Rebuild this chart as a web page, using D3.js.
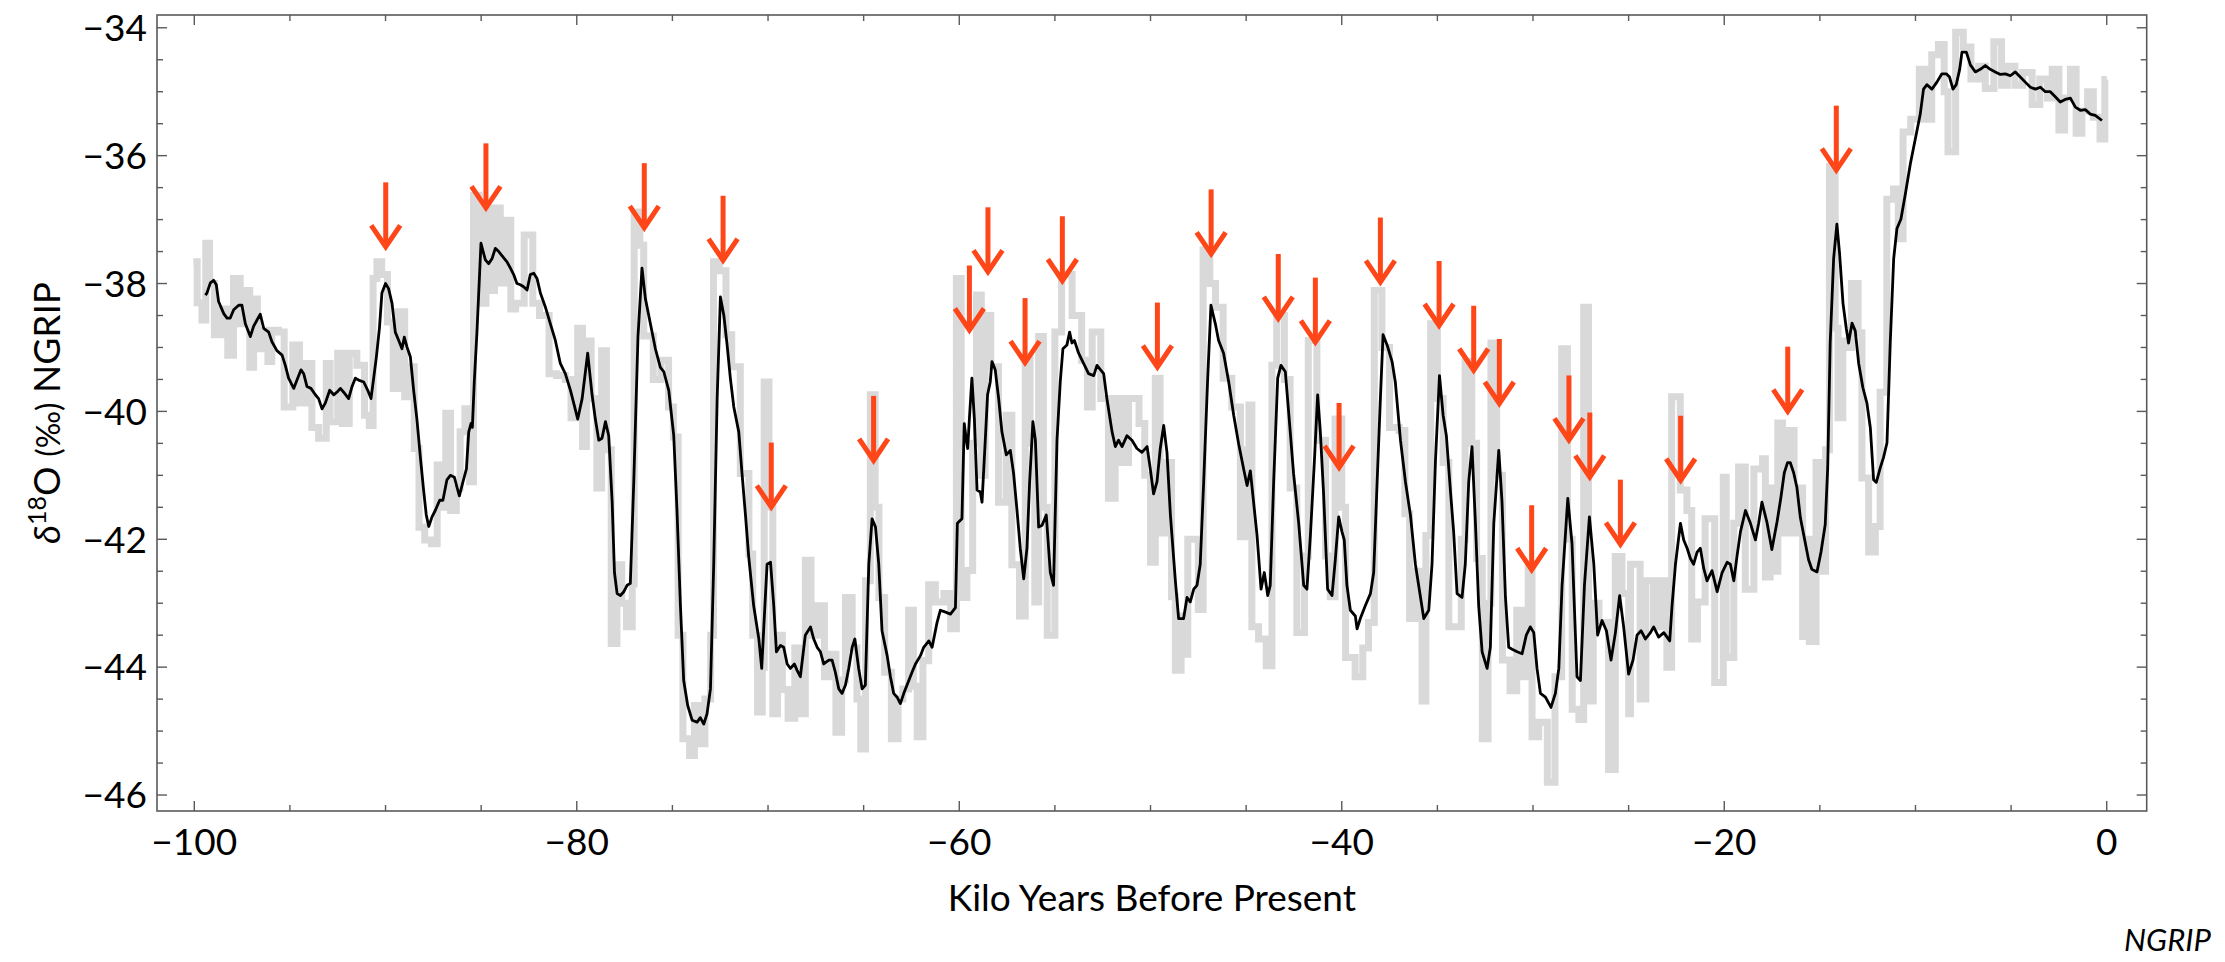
<!DOCTYPE html>
<html>
<head>
<meta charset="utf-8">
<script src="https://cdn.jsdelivr.net/npm/d3@7"></script>
<style>
  html, body { margin: 0; padding: 0; background: #ffffff; }
  svg { display: block; }
</style>
</head>
<body>
<svg id="chart" width="2225" height="962"></svg>
<script>
// ---------------- DATA ----------------
// x tick labels (kyr BP, negative) and y tick labels (per mil)
const xTickValues = [-100, -80, -60, -40, -20, 0];
const yTickValues = [-46, -44, -42, -40, -38, -36, -34];

// smoothed NGRIP d18O record (black line): [kyr, value]
const smoothSeries = [
[-99.42,-38.18],[-99.34,-38.15],[-99.16,-37.99],[-98.99,-37.95],[-98.85,-38.02],[-98.73,-38.28],[-98.46,-38.47],[-98.29,-38.54],
[-98.12,-38.54],[-97.94,-38.41],[-97.68,-38.34],[-97.51,-38.34],[-97.33,-38.63],[-97.07,-38.83],[-96.90,-38.67],[-96.72,-38.57],
[-96.55,-38.48],[-96.37,-38.70],[-96.11,-38.76],[-95.94,-38.91],[-95.68,-39.05],[-95.41,-39.12],[-95.24,-39.28],[-95.07,-39.48],
[-94.80,-39.64],[-94.63,-39.51],[-94.42,-39.35],[-94.28,-39.41],[-94.11,-39.61],[-93.90,-39.64],[-93.67,-39.74],[-93.50,-39.80],
[-93.32,-39.96],[-93.15,-39.87],[-92.92,-39.67],[-92.71,-39.74],[-92.54,-39.70],[-92.36,-39.64],[-92.19,-39.70],[-91.93,-39.80],
[-91.75,-39.61],[-91.58,-39.48],[-91.41,-39.51],[-91.14,-39.54],[-90.93,-39.67],[-90.76,-39.80],[-90.62,-39.48],[-90.48,-39.15],
[-90.32,-38.70],[-90.19,-38.15],[-90.00,-38.00],[-89.84,-38.08],[-89.66,-38.31],[-89.49,-38.76],[-89.31,-38.89],[-89.14,-39.02],
[-89.02,-38.84],[-88.88,-38.99],[-88.70,-39.15],[-88.53,-39.67],[-88.36,-40.12],[-88.18,-40.71],[-88.01,-41.23],[-87.87,-41.62],
[-87.74,-41.80],[-87.57,-41.65],[-87.40,-41.55],[-87.17,-41.39],[-87.00,-41.39],[-86.79,-41.07],[-86.61,-41.00],[-86.40,-41.03],
[-86.26,-41.19],[-86.14,-41.32],[-85.95,-41.10],[-85.77,-40.90],[-85.65,-40.32],[-85.53,-40.19],[-85.46,-40.25],[-85.36,-39.54],
[-85.22,-38.76],[-85.01,-37.37],[-84.78,-37.63],[-84.61,-37.69],[-84.43,-37.61],[-84.26,-37.45],[-84.08,-37.50],[-83.82,-37.60],
[-83.65,-37.66],[-83.47,-37.76],[-83.30,-37.86],[-83.13,-38.00],[-82.95,-38.02],[-82.78,-38.05],[-82.60,-38.10],[-82.43,-37.86],
[-82.25,-37.84],[-82.08,-37.92],[-81.90,-38.15],[-81.64,-38.37],[-81.38,-38.63],[-81.12,-38.89],[-80.86,-39.25],[-80.60,-39.41],
[-80.33,-39.67],[-80.16,-39.87],[-79.95,-40.12],[-79.72,-39.80],[-79.43,-39.09],[-79.20,-39.74],[-79.03,-40.12],[-78.85,-40.45],
[-78.68,-40.42],[-78.50,-40.16],[-78.33,-40.38],[-78.15,-41.42],[-78.03,-42.52],[-77.89,-42.85],[-77.72,-42.88],[-77.54,-42.82],
[-77.37,-42.72],[-77.20,-42.69],[-77.02,-41.10],[-76.80,-38.83],[-76.59,-37.76],[-76.41,-38.24],[-76.15,-38.63],[-75.89,-39.02],
[-75.63,-39.31],[-75.45,-39.38],[-75.19,-39.67],[-74.93,-40.38],[-74.76,-41.55],[-74.58,-43.04],[-74.41,-44.21],[-74.20,-44.60],
[-73.97,-44.83],[-73.71,-44.86],[-73.54,-44.79],[-73.36,-44.89],[-73.19,-44.73],[-73.01,-44.34],[-72.84,-42.39],[-72.66,-39.80],
[-72.49,-38.21],[-72.31,-38.50],[-72.14,-38.96],[-71.97,-39.48],[-71.79,-39.93],[-71.53,-40.32],[-71.36,-40.97],[-71.18,-41.62],
[-71.01,-42.27],[-70.75,-43.04],[-70.48,-43.56],[-70.33,-44.02],[-70.22,-43.37],[-70.05,-42.39],[-69.87,-42.36],[-69.70,-43.04],
[-69.56,-43.76],[-69.35,-43.66],[-69.18,-43.69],[-69.00,-43.95],[-68.83,-44.02],[-68.62,-43.95],[-68.48,-44.05],[-68.31,-44.15],
[-68.05,-43.50],[-67.78,-43.37],[-67.61,-43.56],[-67.43,-43.69],[-67.26,-43.76],[-67.09,-43.95],[-66.82,-43.89],[-66.65,-43.89],
[-66.48,-44.08],[-66.30,-44.34],[-66.13,-44.41],[-65.95,-44.28],[-65.78,-44.02],[-65.60,-43.69],[-65.46,-43.56],[-65.26,-44.02],
[-65.08,-44.34],[-64.91,-44.28],[-64.73,-42.39],[-64.56,-41.68],[-64.38,-41.81],[-64.21,-42.39],[-64.04,-43.43],[-63.77,-43.82],
[-63.60,-44.15],[-63.43,-44.41],[-63.25,-44.47],[-63.08,-44.57],[-62.90,-44.41],[-62.73,-44.28],[-62.47,-44.08],[-62.29,-43.95],
[-62.03,-43.82],[-61.86,-43.69],[-61.59,-43.59],[-61.42,-43.69],[-61.16,-43.30],[-60.99,-43.11],[-60.72,-43.14],[-60.46,-43.17],
[-60.20,-43.07],[-60.10,-41.75],[-59.86,-41.68],[-59.74,-40.19],[-59.63,-40.45],[-59.56,-40.58],[-59.46,-40.06],[-59.34,-39.48],
[-59.21,-40.12],[-59.07,-41.23],[-58.90,-41.26],[-58.81,-41.42],[-58.64,-40.45],[-58.52,-39.74],[-58.38,-39.54],[-58.29,-39.22],
[-58.12,-39.35],[-57.94,-39.80],[-57.77,-40.32],[-57.54,-40.68],[-57.33,-40.61],[-57.16,-40.97],[-56.98,-41.55],[-56.81,-42.14],
[-56.63,-42.62],[-56.46,-42.14],[-56.32,-41.10],[-56.15,-40.16],[-56.02,-40.45],[-55.85,-41.81],[-55.67,-41.78],[-55.45,-41.62],
[-55.24,-42.52],[-55.07,-42.72],[-54.89,-40.45],[-54.72,-39.54],[-54.58,-39.02],[-54.37,-38.96],[-54.23,-38.76],[-54.11,-38.93],
[-53.98,-38.89],[-53.76,-39.09],[-53.50,-39.25],[-53.24,-39.41],[-52.97,-39.44],[-52.80,-39.28],[-52.45,-39.41],[-52.28,-39.80],
[-52.01,-40.32],[-51.84,-40.55],[-51.67,-40.45],[-51.49,-40.55],[-51.23,-40.38],[-50.97,-40.45],[-50.71,-40.58],[-50.45,-40.64],
[-50.18,-40.55],[-50.01,-40.90],[-49.84,-41.29],[-49.66,-41.10],[-49.49,-40.58],[-49.31,-40.22],[-49.14,-40.64],[-48.96,-41.62],
[-48.70,-42.65],[-48.53,-43.24],[-48.27,-43.24],[-48.09,-42.91],[-47.92,-42.98],[-47.74,-42.78],[-47.57,-42.72],[-47.40,-42.39],
[-47.22,-41.10],[-47.01,-39.48],[-46.84,-38.34],[-46.61,-38.63],[-46.44,-38.89],[-46.18,-39.09],[-45.91,-39.54],[-45.65,-40.06],
[-45.39,-40.51],[-45.13,-40.90],[-44.95,-41.16],[-44.78,-40.93],[-44.61,-41.42],[-44.43,-41.94],[-44.22,-42.78],[-44.05,-42.52],
[-43.87,-42.88],[-43.74,-42.72],[-43.56,-41.10],[-43.35,-39.48],[-43.18,-39.28],[-42.95,-39.38],[-42.78,-40.00],[-42.52,-40.97],
[-42.25,-41.75],[-41.99,-42.72],[-41.82,-42.78],[-41.64,-41.94],[-41.43,-40.77],[-41.26,-39.74],[-41.12,-40.32],[-40.95,-41.29],
[-40.74,-42.78],[-40.51,-42.88],[-40.34,-42.33],[-40.16,-41.65],[-39.99,-41.88],[-39.87,-42.01],[-39.73,-42.72],[-39.55,-43.11],
[-39.29,-43.20],[-39.20,-43.40],[-39.03,-43.24],[-38.77,-43.04],[-38.50,-42.85],[-38.33,-42.52],[-38.15,-41.10],[-37.98,-39.80],
[-37.84,-38.80],[-37.63,-38.96],[-37.37,-39.22],[-37.20,-39.54],[-36.93,-40.45],[-36.67,-41.10],[-36.41,-41.62],[-36.15,-42.39],
[-35.98,-42.72],[-35.71,-43.24],[-35.45,-43.11],[-35.28,-42.39],[-35.10,-40.77],[-34.89,-39.44],[-34.70,-40.06],[-34.53,-40.38],
[-34.32,-41.23],[-34.15,-41.88],[-33.97,-42.85],[-33.71,-42.91],[-33.54,-42.39],[-33.36,-41.10],[-33.19,-40.55],[-33.01,-41.75],
[-32.84,-43.04],[-32.66,-43.76],[-32.40,-44.02],[-32.23,-43.69],[-32.05,-41.75],[-31.79,-40.61],[-31.62,-41.42],[-31.44,-42.91],
[-31.27,-43.69],[-31.09,-43.72],[-30.83,-43.76],[-30.57,-43.79],[-30.35,-43.50],[-30.14,-43.37],[-29.96,-43.46],[-29.79,-44.02],
[-29.61,-44.41],[-29.35,-44.47],[-29.06,-44.63],[-28.83,-44.41],[-28.65,-44.02],[-28.48,-42.72],[-28.18,-41.36],[-27.96,-42.07],
[-27.70,-44.15],[-27.52,-44.21],[-27.31,-42.72],[-27.05,-41.65],[-26.82,-42.39],[-26.62,-43.50],[-26.39,-43.27],[-26.16,-43.43],
[-25.92,-43.89],[-25.69,-43.46],[-25.47,-42.88],[-25.26,-43.37],[-25.00,-44.11],[-24.77,-43.89],[-24.56,-43.50],[-24.35,-43.43],
[-24.12,-43.56],[-23.86,-43.46],[-23.69,-43.37],[-23.43,-43.53],[-23.16,-43.46],[-22.85,-43.59],[-22.73,-43.04],[-22.55,-42.39],
[-22.29,-41.75],[-22.12,-42.01],[-21.94,-42.14],[-21.77,-42.30],[-21.60,-42.39],[-21.42,-42.20],[-21.25,-42.14],[-21.07,-42.46],
[-20.90,-42.65],[-20.64,-42.49],[-20.37,-42.82],[-20.11,-42.52],[-19.85,-42.36],[-19.68,-42.39],[-19.50,-42.65],[-19.33,-42.26],
[-19.15,-41.88],[-18.89,-41.55],[-18.63,-41.75],[-18.37,-42.01],[-18.20,-41.75],[-18.03,-41.42],[-17.77,-41.73],[-17.51,-42.16],
[-17.24,-41.73],[-17.04,-41.35],[-16.86,-40.96],[-16.69,-40.80],[-16.55,-40.80],[-16.37,-40.96],[-16.20,-41.19],[-16.02,-41.66],
[-15.82,-41.97],[-15.59,-42.32],[-15.42,-42.47],[-15.15,-42.51],[-14.94,-42.20],[-14.72,-41.77],[-14.59,-40.88],[-14.46,-38.93],
[-14.28,-37.61],[-14.11,-37.07],[-13.97,-37.53],[-13.79,-38.31],[-13.62,-38.70],[-13.50,-38.93],[-13.32,-38.62],[-13.15,-38.74],
[-12.97,-39.25],[-12.75,-39.63],[-12.54,-39.87],[-12.36,-40.26],[-12.19,-41.07],[-12.05,-41.11],[-11.84,-40.88],[-11.67,-40.72],
[-11.49,-40.49],[-11.32,-38.93],[-11.14,-37.61],[-10.97,-37.14],[-10.76,-36.99],[-10.53,-36.60],[-10.27,-36.13],[-10.01,-35.74],
[-9.75,-35.35],[-9.58,-34.96],[-9.40,-34.89],[-9.14,-34.96],[-8.88,-34.85],[-8.62,-34.72],[-8.39,-34.72],[-8.22,-34.77],
[-8.04,-34.96],[-7.87,-34.89],[-7.69,-34.65],[-7.57,-34.38],[-7.34,-34.38],[-7.13,-34.58],[-6.87,-34.69],[-6.61,-34.65],
[-6.35,-34.59],[-6.09,-34.65],[-5.83,-34.69],[-5.56,-34.73],[-5.30,-34.72],[-5.04,-34.75],[-4.78,-34.69],[-4.52,-34.77],
[-4.26,-34.85],[-3.99,-34.93],[-3.73,-34.96],[-3.47,-34.93],[-3.21,-35.00],[-2.95,-35.00],[-2.69,-35.08],[-2.43,-35.16],
[-2.17,-35.12],[-1.90,-35.10],[-1.64,-35.24],[-1.38,-35.29],[-1.12,-35.28],[-0.86,-35.35],[-0.60,-35.37],[-0.25,-35.45]
];

// raw (high resolution) record, drawn as a light grey step line: [kyr, value]
const rawSeries = [
[-100.05,-37.66],[-99.85,-38.30],[-99.60,-38.57],[-99.40,-37.37],[-99.20,-38.00],[-98.95,-38.80],[-98.60,-38.40],[-98.25,-39.12],
[-97.95,-37.92],[-97.60,-38.63],[-97.30,-38.11],[-97.10,-39.31],[-96.90,-38.24],[-96.70,-39.02],[-96.40,-38.73],[-96.15,-39.22],
[-95.95,-38.73],[-95.60,-38.76],[-95.30,-39.93],[-94.85,-38.96],[-94.50,-39.87],[-94.15,-39.25],[-93.85,-40.25],[-93.50,-40.42],
[-93.10,-39.25],[-92.90,-40.16],[-92.50,-39.09],[-92.25,-40.19],[-91.90,-39.09],[-91.50,-39.28],[-91.10,-40.06],[-90.85,-40.22],
[-90.65,-37.92],[-90.45,-37.66],[-90.20,-37.86],[-89.90,-38.60],[-89.60,-39.64],[-89.35,-38.44],[-89.00,-39.77],[-88.70,-39.30],
[-88.50,-40.58],[-88.25,-41.81],[-87.95,-42.01],[-87.60,-42.07],[-87.30,-40.84],[-87.00,-41.50],[-86.85,-40.03],[-86.60,-41.55],
[-86.30,-41.20],[-86.10,-40.32],[-85.85,-39.96],[-85.60,-41.10],[-85.40,-36.62],[-85.10,-38.31],[-84.75,-36.82],[-84.50,-38.11],
[-84.30,-36.82],[-84.00,-37.99],[-83.70,-37.01],[-83.45,-38.40],[-83.20,-38.31],[-82.75,-37.24],[-82.30,-38.31],[-81.95,-38.50],
[-81.45,-39.41],[-81.05,-39.44],[-80.60,-39.50],[-80.30,-40.10],[-79.95,-38.70],[-79.70,-40.55],[-79.50,-38.90],[-79.25,-39.80],
[-78.95,-41.20],[-78.70,-39.05],[-78.45,-40.60],[-78.20,-43.63],[-77.90,-42.40],[-77.65,-43.00],[-77.40,-43.37],[-77.10,-42.70],
[-77.00,-36.88],[-76.70,-37.40],[-76.50,-38.82],[-76.00,-39.50],[-75.60,-39.20],[-75.20,-39.93],[-74.95,-40.40],[-74.70,-43.50],
[-74.45,-45.12],[-74.10,-45.38],[-73.85,-44.60],[-73.60,-45.20],[-73.30,-44.50],[-73.00,-43.50],[-72.85,-37.66],[-72.55,-37.80],
[-72.20,-38.80],[-71.90,-39.30],[-71.45,-40.97],[-71.00,-42.23],[-70.80,-43.50],[-70.55,-44.70],[-70.30,-44.00],[-70.20,-39.54],
[-69.95,-41.50],[-69.75,-44.73],[-69.50,-43.50],[-69.25,-44.35],[-68.95,-44.80],[-68.60,-43.70],[-68.40,-44.73],[-68.05,-42.33],
[-67.75,-43.50],[-67.40,-43.04],[-67.05,-44.15],[-66.75,-43.80],[-66.45,-45.02],[-66.15,-44.20],[-65.95,-42.91],[-65.60,-43.70],
[-65.35,-44.50],[-65.15,-45.28],[-64.90,-42.65],[-64.65,-39.74],[-64.40,-41.50],[-64.20,-42.91],[-63.90,-44.08],[-63.55,-45.12],
[-63.20,-44.50],[-62.95,-44.34],[-62.65,-43.11],[-62.40,-44.30],[-62.20,-45.09],[-61.90,-43.90],[-61.60,-42.71],[-61.25,-42.98],
[-60.80,-42.85],[-60.45,-43.40],[-60.15,-37.92],[-59.90,-42.91],[-59.60,-42.49],[-59.30,-40.50],[-59.10,-38.18],[-58.85,-41.00],
[-58.65,-38.50],[-58.35,-39.30],[-57.95,-41.42],[-57.55,-40.06],[-57.25,-42.40],[-56.85,-43.20],[-56.55,-39.15],[-56.30,-40.50],
[-56.05,-42.98],[-55.85,-38.83],[-55.60,-41.50],[-55.40,-43.50],[-55.00,-38.76],[-54.65,-37.86],[-54.10,-38.50],[-53.60,-39.20],
[-53.30,-39.93],[-53.05,-38.76],[-52.60,-39.80],[-52.20,-41.36],[-51.85,-39.80],[-51.50,-40.80],[-51.15,-39.80],[-50.60,-40.19],
[-50.30,-41.00],[-50.00,-42.36],[-49.75,-39.48],[-49.50,-41.90],[-49.20,-40.80],[-48.90,-42.90],[-48.70,-44.05],[-48.40,-43.20],
[-48.25,-43.80],[-48.05,-42.00],[-47.80,-42.00],[-47.50,-43.10],[-47.25,-37.47],[-46.90,-38.00],[-46.60,-38.37],[-46.20,-39.48],
[-45.75,-39.93],[-45.30,-41.96],[-45.00,-40.60],[-44.85,-39.90],[-44.70,-43.37],[-44.35,-43.56],[-43.95,-43.98],[-43.65,-39.28],
[-43.40,-38.50],[-43.00,-39.50],[-42.70,-41.20],[-42.35,-43.46],[-41.95,-42.26],[-41.75,-38.89],[-41.30,-40.45],[-40.85,-42.26],
[-40.60,-42.90],[-40.35,-40.12],[-40.00,-41.50],[-39.80,-43.85],[-39.30,-44.15],[-38.90,-43.70],[-38.60,-43.30],[-38.30,-38.11],
[-37.90,-39.00],[-37.50,-40.25],[-37.00,-40.30],[-36.70,-41.60],[-36.45,-43.24],[-36.10,-42.50],[-35.80,-44.53],[-35.60,-41.94],
[-35.35,-38.63],[-35.00,-39.80],[-34.70,-40.80],[-34.40,-43.37],[-34.05,-43.37],[-33.75,-42.00],[-33.55,-39.22],[-33.20,-40.50],
[-32.95,-42.30],[-32.65,-45.12],[-32.35,-43.00],[-32.20,-38.93],[-31.90,-41.00],[-31.60,-43.89],[-31.20,-44.37],[-30.85,-43.11],
[-30.55,-44.15],[-30.25,-42.39],[-30.05,-45.09],[-29.70,-44.86],[-29.25,-45.80],[-28.85,-44.15],[-28.50,-39.02],[-28.20,-42.00],
[-27.95,-44.66],[-27.60,-44.82],[-27.35,-38.37],[-27.10,-44.53],[-26.85,-43.00],[-26.55,-43.30],[-26.05,-45.60],[-25.70,-42.27],
[-25.35,-42.85],[-25.00,-44.73],[-24.90,-42.39],[-24.40,-44.50],[-24.10,-42.65],[-23.70,-43.37],[-23.35,-42.65],[-23.00,-44.00],
[-22.75,-39.77],[-22.30,-41.23],[-21.95,-41.55],[-21.70,-43.56],[-21.40,-42.98],[-21.00,-41.68],[-20.50,-44.24],[-20.05,-41.03],
[-19.90,-43.85],[-19.50,-41.75],[-19.25,-40.87],[-18.90,-42.78],[-18.45,-40.90],[-18.00,-40.74],[-17.85,-42.59],[-17.60,-41.20],
[-17.40,-42.50],[-17.20,-40.18],[-16.95,-41.90],[-16.60,-40.30],[-16.35,-41.90],[-16.00,-41.20],[-15.90,-43.52],[-15.65,-42.00],
[-15.55,-43.60],[-15.20,-40.80],[-14.95,-42.50],[-14.70,-40.60],[-14.50,-36.17],[-14.20,-38.70],[-14.05,-40.10],[-13.80,-38.90],
[-13.65,-39.00],[-13.35,-38.00],[-13.00,-38.77],[-12.80,-41.04],[-12.45,-42.20],[-12.10,-41.80],[-11.85,-39.70],[-11.50,-36.68],
[-11.15,-36.52],[-10.90,-37.30],[-10.65,-35.63],[-10.25,-35.43],[-9.80,-34.65],[-9.50,-35.43],[-9.15,-34.42],[-8.80,-34.26],
[-8.50,-35.00],[-8.30,-35.94],[-7.90,-34.07],[-7.50,-34.30],[-7.10,-34.80],[-6.70,-34.60],[-6.35,-34.95],[-5.90,-34.22],
[-5.50,-34.90],[-5.20,-34.60],[-4.80,-34.90],[-4.40,-34.70],[-3.90,-35.20],[-3.50,-34.80],[-3.10,-35.10],[-2.85,-34.65],
[-2.50,-35.60],[-2.20,-35.10],[-1.90,-34.65],[-1.60,-35.65],[-1.30,-35.30],[-1.00,-35.00],[-0.70,-35.40],[-0.35,-35.74],
[-0.10,-34.81],[0.00,-34.81]
];

// Dansgaard-Oeschger onsets marked by red arrows: age (kyr) and arrow-tip value
const arrowAges = [-89.99,-84.75,-76.47,-72.35,-69.83,-64.48,-59.47,-58.50,-56.56,-54.61,-49.64,-46.83,-43.32,
                   -41.38,-40.14,-37.98,-34.91,-33.10,-31.76,-30.07,-28.12,-27.03,-25.43,-22.28,-16.68,-14.14];
const arrowTips = [-37.45,-36.84,-37.15,-37.66,-41.52,-40.79,-38.75,-37.84,-39.26,-37.98,-39.33,-37.56,-38.57,
                   -38.94,-40.90,-38.00,-38.68,-39.38,-39.90,-42.50,-40.47,-41.05,-42.10,-41.10,-40.02,-36.25];

// ---------------- DRAWING ----------------
const W = 2225, H = 962;
const plot = { left: 157, right: 2146.7, top: 15, bottom: 811 };
const FONT = "Lato, 'Open Sans', sans-serif";
const frameColor = "#5a5a5a";
const arrowColor = "#ff4619";

const x = d3.scaleLinear().domain([-101.95, 2.09]).range([plot.left, plot.right]);
const y = d3.scaleLinear().domain([-46.25, -33.80]).range([plot.bottom, plot.top]);

const svg = d3.select("#chart");
svg.append("rect").attr("width", W).attr("height", H).attr("fill", "#fff");

svg.append("defs").append("clipPath").attr("id", "clip")
  .append("rect").attr("x", plot.left).attr("y", plot.top)
  .attr("width", plot.right - plot.left).attr("height", plot.bottom - plot.top);

const g = svg.append("g").attr("clip-path", "url(#clip)");

// raw grey step line
g.append("path")
  .datum(rawSeries)
  .attr("fill", "none")
  .attr("stroke", "#d9d9d9")
  .attr("stroke-width", 7)
  .attr("stroke-linejoin", "miter")
  .attr("d", d3.line().x(d => x(d[0])).y(d => y(d[1])).curve(d3.curveStepAfter));

// smoothed black line
g.append("path")
  .datum(smoothSeries)
  .attr("fill", "none")
  .attr("stroke", "#000")
  .attr("stroke-width", 2.8)
  .attr("stroke-linejoin", "round")
  .attr("d", d3.line().x(d => x(d[0])).y(d => y(d[1])));

// arrows
const arrowLen = 66, headW = 14.5, headH = 23;
const arrows = svg.append("g");
arrowAges.forEach((a, i) => {
  const tx = x(a), ty = y(arrowTips[i]);
  arrows.append("line")
    .attr("x1", tx).attr("x2", tx)
    .attr("y1", ty - arrowLen).attr("y2", ty - 3)
    .attr("stroke", arrowColor).attr("stroke-width", 5);
  arrows.append("path")
    .attr("d", `M${tx - headW},${ty - headH}L${tx},${ty - 1.5}L${tx + headW},${ty - headH}`)
    .attr("fill", "none").attr("stroke", arrowColor).attr("stroke-width", 5)
    .attr("stroke-linejoin", "miter").attr("stroke-miterlimit", 10);
});

// frame
svg.append("rect")
  .attr("x", plot.left).attr("y", plot.top)
  .attr("width", plot.right - plot.left).attr("height", plot.bottom - plot.top)
  .attr("fill", "none").attr("stroke", frameColor).attr("stroke-width", 1.6);

// ticks (inward, on all four sides)
const majLen = 10, minLen = 6;
const xMinor = d3.range(-100, 0.01, 5).filter(v => !xTickValues.includes(v));
const yMinor = d3.range(-46, -33.99, 0.5).filter(v => !yTickValues.includes(v));
const ticks = svg.append("g").attr("stroke", frameColor).attr("stroke-width", 1.4);
function xt(v, len) {
  ticks.append("line").attr("x1", x(v)).attr("x2", x(v)).attr("y1", plot.bottom).attr("y2", plot.bottom - len);
  ticks.append("line").attr("x1", x(v)).attr("x2", x(v)).attr("y1", plot.top).attr("y2", plot.top + len);
}
function yt(v, len) {
  ticks.append("line").attr("y1", y(v)).attr("y2", y(v)).attr("x1", plot.left).attr("x2", plot.left + len);
  ticks.append("line").attr("y1", y(v)).attr("y2", y(v)).attr("x1", plot.right).attr("x2", plot.right - len);
}
xTickValues.forEach(v => xt(v, majLen));
xMinor.forEach(v => xt(v, minLen));
yTickValues.forEach(v => yt(v, majLen));
yMinor.forEach(v => yt(v, minLen));

const fmt = v => (v < 0 ? "\u2212" : "") + Math.abs(v);

// tick labels
svg.append("g").selectAll("text").data(xTickValues).join("text")
  .attr("x", d => x(d)).attr("y", 855)
  .attr("text-anchor", "middle")
  .attr("font-family", FONT).attr("font-size", 37).attr("fill", "#000")
  .text(fmt);

svg.append("g").selectAll("text").data(yTickValues).join("text")
  .attr("x", 147).attr("y", d => y(d))
  .attr("dy", "0.36em")
  .attr("text-anchor", "end")
  .attr("font-family", FONT).attr("font-size", 37).attr("fill", "#000")
  .text(fmt);

// axis titles
svg.append("text")
  .attr("x", (plot.left + plot.right) / 2).attr("y", 911)
  .attr("text-anchor", "middle")
  .attr("font-family", FONT).attr("font-size", 37).attr("fill", "#000")
  .text("Kilo Years Before Present");

const yt2 = svg.append("text")
  .attr("transform", `translate(60,${(plot.top + plot.bottom) / 2}) rotate(-90)`)
  .attr("text-anchor", "middle")
  .attr("font-family", FONT).attr("font-size", 37).attr("fill", "#000");
yt2.append("tspan").attr("font-style", "italic").text("\u03B4");
yt2.append("tspan").attr("font-size", 25).attr("dy", -14).text("18");
yt2.append("tspan").attr("dy", 14).text("O ");
yt2.append("tspan").attr("font-size", 32).text("(\u2030)");
yt2.append("tspan").text(" NGRIP");

svg.append("text")
  .attr("x", 2211).attr("y", 951)
  .attr("text-anchor", "end")
  .attr("font-family", FONT).attr("font-size", 31).attr("font-style", "italic").attr("fill", "#000")
  .text("NGRIP");
</script>
</body>
</html>
